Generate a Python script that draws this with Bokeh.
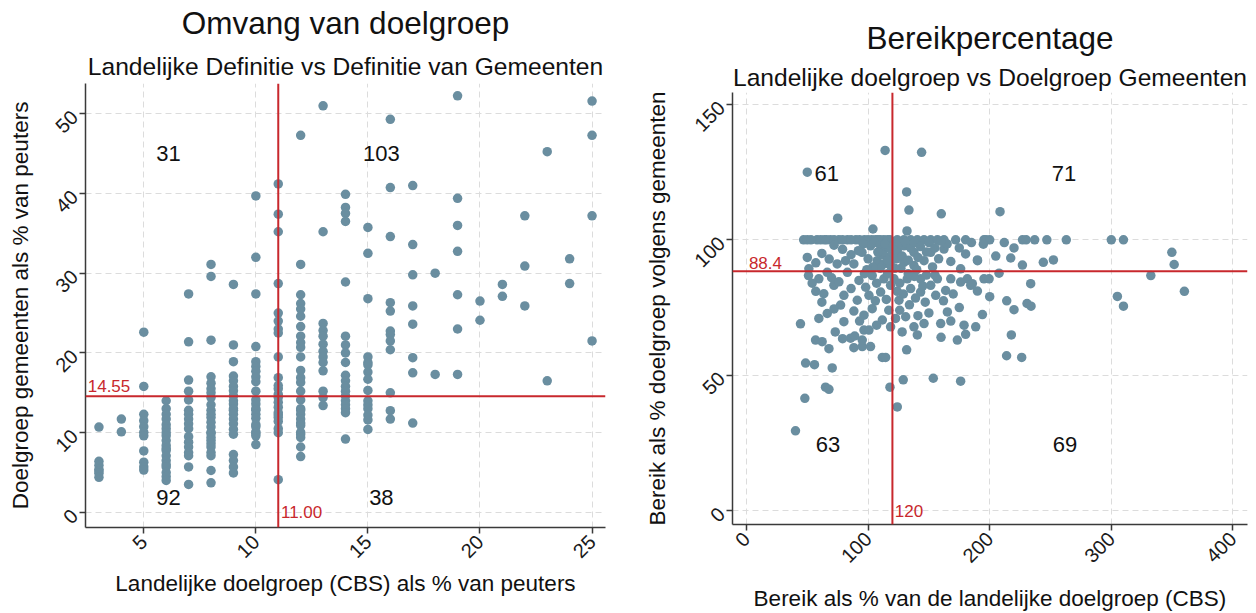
import math
from bokeh.plotting import figure
from bokeh.layouts import row, column
from bokeh.models import Span, Title, FixedTicker
from bokeh.core.properties import value
from bokeh.embed import file_html
from bokeh.resources import INLINE

FONT = "Liberation Sans"
DOT = "#6a8ea0"
RED = "#c8282d"

# ---------------- Data: Omvang van doelgroep ----------------
# x = Landelijke doelgroep (CBS) als % van peuters, y = Doelgroep gemeenten als % van peuters
cbs_cols = [3, 4, 5, 6, 7, 8, 9, 10, 11, 12, 13, 14, 15, 16, 17, 18, 19, 20, 21, 22, 23, 24, 25]
gem_by_col = [
    [10.7, 6.4, 5.9, 5.4, 5.2, 4.9, 4.4],
    [11.7, 10.1],
    [22.6, 15.8, 12.3, 11.5, 10.75, 10.05, 9.6, 7.7, 6.3, 5.7, 5.3],
    [14.0, 13.0, 12.3, 11.7, 11.0, 10.5, 10.0, 9.6, 9.0, 8.4, 8.0, 7.75, 7.1, 6.5, 6.0, 5.7, 5.0, 4.5, 4.0],
    [27.4, 21.4, 16.6, 15.2, 14.1, 12.8, 12.3, 11.7, 11.1, 10.5, 9.5, 8.8, 8.2, 7.5, 7.1, 5.7, 3.5],
    [31.1, 29.6, 21.6, 17.0, 16.2, 15.5, 15.0, 14.4, 13.5, 12.8, 12.3, 11.9, 11.3, 10.7, 10.05, 9.9, 9.4, 9.0, 8.6, 8.2, 7.5, 7.1, 5.25, 3.7],
    [28.6, 21.0, 18.9, 17.1, 16.5, 15.8, 15.25, 14.6, 14.0, 13.6, 13.0, 12.8, 12.3, 11.7, 11.1, 10.4, 9.8, 7.25, 6.5, 5.7, 4.95],
    [39.7, 32.0, 27.4, 20.8, 18.9, 18.3, 17.7, 17.0, 16.4, 15.2, 14.1, 13.6, 13.0, 12.8, 12.3, 11.8, 11.0, 10.75, 10.1, 9.9, 9.6, 8.5],
    [41.2, 37.4, 35.2, 28.7, 25.0, 24.0, 23.0, 22.5, 19.5, 16.9, 15.9, 15.5, 14.8, 14.4, 13.8, 13.2, 12.5, 12.2, 11.9, 11.4, 10.5, 10.0, 4.1],
    [47.3, 31.1, 27.3, 26.2, 25.5, 24.6, 23.3, 22.1, 21.3, 20.7, 19.5, 17.8, 16.9, 16.3, 15.2, 14.1, 13.0, 12.8, 12.3, 11.7, 11.2, 10.9, 10.05, 9.8, 9.4, 8.2, 7.0],
    [51.0, 35.2, 23.7, 22.8, 22.1, 21.1, 20.2, 19.5, 18.8, 17.75, 15.2, 14.4, 13.4],
    [39.9, 38.25, 37.5, 36.5, 28.9, 22.1, 21.0, 20.0, 18.8, 17.2, 16.5, 15.8, 15.2, 14.6, 14.0, 13.5, 13.0, 12.5, 9.2],
    [35.75, 32.5, 26.8, 19.5, 18.8, 18.5, 17.6, 16.7, 15.3, 14.0, 13.5, 13.0, 12.2, 11.6, 10.4],
    [49.3, 40.75, 34.6, 26.3, 25.25, 22.75, 22.3, 21.5, 20.4, 15.0, 12.75, 11.7],
    [41.0, 33.6, 29.8, 25.9, 23.6, 19.4, 17.5, 11.2],
    [30.0, 17.3],
    [52.25, 39.4, 36.0, 32.75, 27.3, 23.0, 17.3],
    [26.5, 24.1],
    [28.6, 27.1],
    [37.2, 30.9, 25.9],
    [45.25, 16.5],
    [31.8, 28.7],
    [51.6, 47.3, 37.2, 21.5],
]
omvang_x_ref = 11.00
omvang_y_ref = 14.55
omvang_counts = ["31", "103", "92", "38"]
omvang_xticks = [5, 10, 15, 20, 25]
omvang_yticks = [0, 10, 20, 30, 40, 50]

# ---------------- Data: Bereikpercentage ----------------
# (bereik als % van landelijke doelgroep, bereik als % doelgroep volgens gemeenten)
bereik_lb = [  # links boven
    (50, 125), (114, 133), (75, 108), (104, 104),
    (47, 100), (58, 100), (64, 100), (69, 100), (76, 100), (83, 100), (90, 100), (97, 100),
    (103, 100), (108, 100), (113, 100), (118, 100), (50, 100), (53, 100), (61, 100), (66, 100),
    (72, 100), (79, 100), (86, 100), (93, 100), (100, 100), (106, 100), (110, 100), (116, 100),
    (50, 93.5), (95, 95.4), (102, 97.8), (113, 96.6), (118.5, 94.1), (68, 92.9), (74.6, 91.1),
    (81.5, 92.3), (88.3, 91.1), (107.5, 92.3), (113, 91.1), (118.5, 90.5), (51.3, 89.3),
    (105, 99), (110, 98), (115, 99), (117, 97), (112, 94.5), (108, 95.5), (116, 92.5), (110, 89.5),
    (104, 90), (100, 93), (96, 98.5), (92, 96), (86, 94.5), (79, 96.5), (72, 98), (62, 95),
    (57, 91.5), (99, 89), (119, 99), (114, 98.5),
]
bereik_rb = [  # rechts boven
    (144, 132.3), (131.7, 117.7), (133.6, 111), (160.2, 109.6), (132, 103.3), (208.5, 110.4),
    (124, 100), (129.5, 100), (135, 100), (140.5, 100), (146, 100), (151.5, 100), (157, 100),
    (162.4, 100), (172, 100), (180.2, 100), (195.3, 100), (197, 100), (200, 100), (227, 100),
    (230, 100), (237, 100), (247, 100), (263, 100), (300, 100), (310, 100),
    (124, 96), (129.5, 97.8), (137.7, 95.4), (151.5, 95.4), (162.4, 96.6), (180.2, 94.8),
    (190, 92.3), (129.5, 91.7), (137.7, 90.5), (146, 92.3), (189.9, 92.6), (194.8, 98.4),
    (217.3, 93.3), (226.9, 90.7), (244.1, 91.7), (252.4, 92.6), (349.8, 95.4), (351.7, 90.9),
    (176.1, 89.3),
    (121, 98), (123, 93), (126, 99), (127, 89.5), (128, 94), (131, 99), (133, 92.5), (135, 97),
    (138, 99), (141, 93.5), (143, 97.5), (148, 95.5), (150, 99), (153, 90), (155, 97), (158, 93),
    (165, 98.5), (168, 92), (175, 97), (185, 99), (205, 94), (212, 99), (220, 97), (122, 89.5),
    (140, 89), (160, 99.5),
]
bereik_lo = [  # links onder
    (51, 86.8), (59.5, 85.6), (66.4, 88.0), (83, 88.0), (92.5, 85), (103.4, 86.8), (113, 85.6),
    (63.6, 80.1), (71.9, 83.2), (80.1, 79.5), (91.1, 77.7), (100.7, 79.5), (110.3, 80.7),
    (118.5, 83.2), (77.4, 75.9), (44.4, 69), (59.5, 71), (66.4, 72.8), (72, 74.5), (80.1, 69.8),
    (88.3, 73.7), (96.6, 72.2), (103.4, 74.6), (111.7, 70.4), (96.6, 66.7), (100.7, 66.7),
    (118.5, 67.9), (56.8, 63), (62.2, 62.4), (67.8, 59.8), (85.6, 63.7), (88.3, 60.2),
    (95.2, 60.6), (95.2, 63), (102, 60.6), (111.7, 56.6), (114.4, 56.6), (48.6, 54.5),
    (55.9, 53.9), (70.5, 52.7), (65, 45.6), (67.8, 44.8), (48, 41.5), (118, 45.6), (40.3, 29.5),
    (54, 84), (70, 86), (76, 84.5), (86, 82), (97, 87.5), (107, 84), (116, 87.5), (98, 82.5),
    (106, 77.5), (115, 78), (62, 77), (93, 70), (107, 68.5), (73, 66), (79, 63.5), (89, 64.5),
    (117, 74), (57, 81),
]
bereik_ro = [  # rechts onder
    (121.3, 85.6), (132.2, 85.6), (143.2, 85.6), (157, 85.6), (168, 85.6), (181.6, 85.6),
    (195.3, 85.6), (125.4, 77.7), (135, 82), (143.2, 80.7), (151.5, 83.2), (155.6, 79.5),
    (163.8, 81.3), (176.1, 84.4), (184.4, 83.2), (122.6, 71), (130.9, 71.6), (137.7, 67.9),
    (146, 69.1), (159.7, 69.1), (165.2, 73.4), (178.9, 68.5), (188.5, 67.9), (194, 72.4),
    (173.4, 63), (180.2, 65.1), (131.7, 59.4), (128.9, 48.3), (124, 38.3), (153.6, 48.9),
    (176.1, 47.8), (185.7, 83.8), (189.9, 81.1), (199.5, 85.6), (207.7, 87.7), (233.7, 83.8),
    (360.1, 81), (305, 79.1), (310, 75.5), (332.5, 86.8), (214, 77.5), (220, 74.2),
    (230.7, 76.5), (234, 75.5), (217.8, 64.9), (213.9, 57.2), (226.3, 56.6), (140.5, 64.9),
    (126, 84), (129, 80), (138, 86.5), (147, 77), (150, 73), (126, 74), (134, 76), (141, 72),
    (155, 87), (162, 77.5), (170, 80), (160, 64), (128, 66), (145, 83), (133, 87.5), (175, 75),
    (200, 79), (124, 81), (148, 87), (139, 78.5), (168, 70),
]
bereik_x_ref = 120
bereik_y_ref = 88.4
bereik_counts = ["61", "71", "63", "69"]
bereik_xticks = [0, 100, 200, 300, 400]
bereik_yticks = [0, 50, 100, 150]


def style(p, xticks, yticks, xstand, ystand):
    for ax in (p.xaxis[0], p.yaxis[0]):
        ax.axis_line_color = "#3a3a3a"
        ax.axis_line_width = 1.5
        ax.major_tick_line_color = "#3a3a3a"
        ax.major_tick_line_width = 1.5
        ax.major_tick_out = 6
        ax.major_tick_in = 0
        ax.minor_tick_line_color = None
        ax.major_label_text_font = FONT
        ax.major_label_text_font_size = "20px"
        ax.major_label_text_color = "#1a1a1a"
        ax.major_label_orientation = math.pi / 4
        ax.axis_label_text_font = FONT
        ax.axis_label_text_font_size = "22.5px"
        ax.axis_label_text_font_style = "normal"
        ax.axis_label_text_color = "#111111"
    p.xaxis.axis_label_standoff = xstand
    p.yaxis.axis_label_standoff = ystand
    p.xaxis.ticker = FixedTicker(ticks=xticks)
    p.yaxis.ticker = FixedTicker(ticks=yticks)
    p.grid.grid_line_color = "#dcdcdc"
    p.grid.grid_line_dash = "6 4"
    p.grid.grid_line_width = 1
    p.outline_line_color = None
    p.background_fill_color = "white"
    p.border_fill_color = "white"


def add_titles(p, main, sub, main_so, main_va, sub_so):
    p.add_layout(Title(text=sub, align="center", text_font=FONT, text_font_size="24.6px",
                       text_font_style="normal", text_color="#111111",
                       standoff=sub_so, vertical_align="bottom"), "above")
    p.add_layout(Title(text=main, align="center", text_font=FONT, text_font_size="31.5px",
                       text_font_style="normal", text_color="#111111",
                       standoff=main_so, vertical_align=main_va), "above")


# ---------------- Left figure ----------------
p1 = figure(width=620, height=613, output_backend="svg", toolbar_location=None, title=None,
            x_range=(2.4, 25.6), y_range=(-1.9, 53.8),
            min_border_left=85, min_border_right=15, min_border_top=82, min_border_bottom=86)
style(p1, omvang_xticks, omvang_yticks, 4, 13)
p1.xaxis.axis_label = "Landelijke doelgroep (CBS) als % van peuters"
p1.yaxis.axis_label = "Doelgroep gemeenten als % van peuters"
add_titles(p1, "Omvang van doelgroep", "Landelijke Definitie vs Definitie van Gemeenten",
           8.8, "top", 6.5)

ox, oy = [], []
for cx, ys in zip(cbs_cols, gem_by_col):
    for yv in ys:
        ox.append(cx)
        oy.append(yv)
p1.add_layout(Span(location=omvang_x_ref, dimension="height", line_color=RED, line_width=2))
p1.add_layout(Span(location=omvang_y_ref, dimension="width", line_color=RED, line_width=2))
p1.scatter(ox, oy, size=9.5, fill_color=DOT, line_color=None)
p1.text(x=[6.1, 15.6, 6.1, 15.6], y=[45, 45, 1.9, 1.9], text=omvang_counts,
        text_font=value(FONT), text_font_size="22px", text_color="#111111",
        text_align="center", text_baseline="middle")
p1.text(x=[2.5], y=[omvang_y_ref + 0.6], text=[f"{omvang_y_ref:.2f}"], text_font=value(FONT),
        text_font_size="17px", text_color=RED, text_align="left", text_baseline="bottom")
p1.text(x=[omvang_x_ref + 0.12], y=[0], text=[f"{omvang_x_ref:.2f}"], text_font=value(FONT),
        text_font_size="17px", text_color=RED, text_align="left", text_baseline="middle")

# ---------------- Right figure ----------------
p2 = figure(width=636, height=613, output_backend="svg", toolbar_location=None, title=None,
            x_range=(-11.5, 412), y_range=(-5.1, 154.4),
            min_border_left=112, min_border_right=9, min_border_top=92, min_border_bottom=85)
style(p2, bereik_xticks, bereik_yticks, 14, 15)
p2.xaxis.axis_label = "Bereik als % van de landelijke doelgroep (CBS)"
p2.yaxis.axis_label = "Bereik als % doelgroep volgens gemeenten"
add_titles(p2, "Bereikpercentage", "Landelijke doelgroep vs Doelgroep Gemeenten",
           8.8, "bottom", 2.5)

bx, by = [], []
for group in (bereik_lb, bereik_rb, bereik_lo, bereik_ro):
    for xv, yv in group:
        bx.append(xv)
        by.append(yv)
p2.add_layout(Span(location=bereik_x_ref, dimension="height", line_color=RED, line_width=2))
p2.add_layout(Span(location=bereik_y_ref, dimension="width", line_color=RED, line_width=2))
p2.scatter(bx, by, size=9.5, fill_color=DOT, line_color=None)
p2.text(x=[66, 261, 67, 262], y=[124.5, 124.5, 24.5, 24.5], text=bereik_counts,
        text_font=value(FONT), text_font_size="22px", text_color="#111111",
        text_align="center", text_baseline="middle")
p2.text(x=[2], y=[bereik_y_ref + 1.0], text=[f"{bereik_y_ref:.1f}"], text_font=value(FONT),
        text_font_size="17px", text_color=RED, text_align="left", text_baseline="bottom")
p2.text(x=[bereik_x_ref + 2], y=[0], text=[f"{bereik_x_ref}"], text_font=value(FONT),
        text_font_size="17px", text_color=RED, text_align="left", text_baseline="middle")

layout = row(column(p1), column(p2))
open("out.html", "w").write(file_html(layout, INLINE))
